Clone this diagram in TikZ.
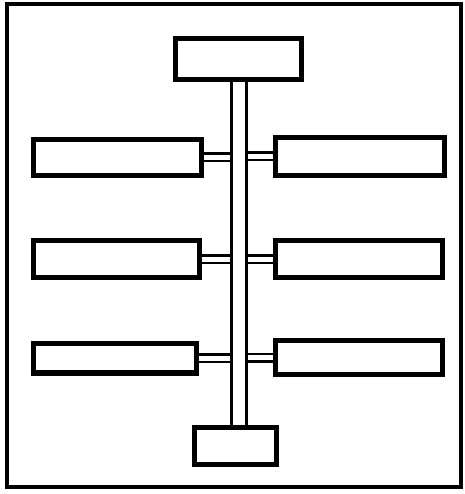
\documentclass[tikz,border=0pt]{standalone}
\begin{document}
\begin{tikzpicture}[x=1pt,y=-1pt,
  unit/.style={draw=black, line width=3.5pt, fill=white, inner sep=0pt, rectangle},
  rail/.style={draw=black, line width=3pt, double=white, double distance=12pt},
  link/.style={draw=black, line width=2.5pt, double=white, double distance=5pt}]
\useasboundingbox (0,0) rectangle (464,494);
\draw[line width=4pt] (7,4) rectangle (461,487);
% boxes
\node[unit, minimum width=124pt, minimum height=39pt] (top) at (238.5,59) {};
\node[unit, minimum width=166pt, minimum height=34pt] (l1) at (117.5,157.5) {};
\node[unit, minimum width=167pt, minimum height=36pt] (r1) at (360,156.5) {};
\node[unit, minimum width=164pt, minimum height=35pt] (l2) at (116.5,259) {};
\node[unit, minimum width=165pt, minimum height=35pt] (r2) at (359,259) {};
\node[unit, minimum width=161pt, minimum height=28pt] (l3) at (115,358) {};
\node[unit, minimum width=165pt, minimum height=32pt] (r3) at (359,357.5) {};
\node[unit, minimum width=80pt, minimum height=35pt] (bot) at (235.5,446) {};
% rail ends
\coordinate (ra) at (239,0);
\coordinate (jl1) at (ra |- l1.east);
\coordinate (jr1) at (ra |- r1.west);
\coordinate (jl2) at (ra |- l2.east);
\coordinate (jr2) at (ra |- r2.west);
\coordinate (jl3) at (ra |- l3.east);
\coordinate (jr3) at (ra |- r3.west);
% links
\draw[link] (l1.east) -- (jl1);
\draw[link] (r1.west) -- (jr1);
\draw[link] (l2.east) -- (jl2);
\draw[link] (r2.west) -- (jr2);
\draw[link] (l3.east) -- (jl3);
\draw[link] (r3.west) -- (jr3);
% rail
\draw[rail] (ra |- top.south) -- (ra |- bot.north);
% redraw boxes' borders over link ends
\foreach \n in {top,l1,r1,l2,r2,l3,r3,bot}{\draw[line width=3.5pt] (\n.north west) rectangle (\n.south east);}
\end{tikzpicture}
\end{document}
